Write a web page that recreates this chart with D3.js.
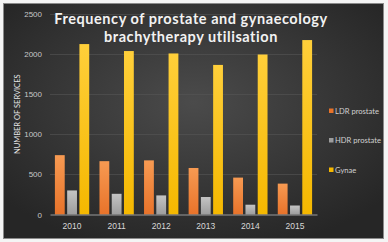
<!DOCTYPE html>
<html>
<head>
<meta charset="utf-8">
<script src="https://cdn.jsdelivr.net/npm/d3@7"></script>
<style>
  body { margin: 0; background: #f4f4f4; }
  svg { display: block; font-family: Lato, "Open Sans", sans-serif; }
</style>
</head>
<body>
<svg id="chart"></svg>
<script>
// chart data
const years = ["2010", "2011", "2012", "2013", "2014", "2015"];
const seriesNames = ["LDR prostate", "HDR prostate", "Gynae"];
const ldr = [740, 665, 675, 580, 460, 385];
const hdr = [300, 258, 238, 218, 122, 112];
const gynae = [2125, 2038, 2008, 1865, 1995, 2175];
const yTicks = [0, 500, 1000, 1500, 2000, 2500];

const width = 388, height = 242;
const margin = { top: 14, right: 71, bottom: 27, left: 50 };

const svg = d3.select("#chart").attr("width", width).attr("height", height);
const defs = svg.append("defs");

// dark panel with a soft radial glow
const bg = defs.append("radialGradient").attr("id", "bg")
  .attr("cx", "50%").attr("cy", "42%").attr("r", "65%");
bg.append("stop").attr("offset", "0%").attr("stop-color", "#4b4b4b");
bg.append("stop").attr("offset", "100%").attr("stop-color", "#262626");

const barColors = [
  ["#f79a52", "#e8732a"],
  ["#c4c4c4", "#9d9d9d"],
  ["#ffcf3a", "#f5b800"]
];
barColors.forEach((c, i) => {
  const g = defs.append("linearGradient").attr("id", "bar" + i)
    .attr("x1", 0).attr("x2", 0).attr("y1", 0).attr("y2", 1);
  g.append("stop").attr("offset", "0%").attr("stop-color", c[0]);
  g.append("stop").attr("offset", "100%").attr("stop-color", c[1]);
});

svg.append("rect")
  .attr("x", 3.5).attr("y", 3.5).attr("width", 380).attr("height", 235)
  .attr("fill", "url(#bg)").attr("stroke", "#8a8a8a").attr("stroke-width", 1);

const x0 = d3.scaleBand().domain(years)
  .range([margin.left, width - margin.right]).paddingInner(0.23).paddingOuter(0.11);
const x1 = d3.scaleBand().domain(seriesNames)
  .range([0, x0.bandwidth()]).paddingInner(0.2);
const y = d3.scaleLinear().domain([0, 2500])
  .range([height - margin.bottom - 0.5, margin.top]);

// gridlines
svg.append("g")
  .selectAll("line")
  .data(yTicks.slice(1))
  .join("line")
  .attr("x1", margin.left).attr("x2", width - margin.right)
  .attr("y1", d => Math.round(y(d)) + 0.5).attr("y2", d => Math.round(y(d)) + 0.5)
  .attr("stroke", "#555").attr("stroke-width", 0.6);

// bars
const rows = years.map((yr, i) => ({ year: yr, values: [ldr[i], hdr[i], gynae[i]] }));
svg.append("g")
  .selectAll("g")
  .data(rows)
  .join("g")
  .attr("transform", d => `translate(${x0(d.year)},0)`)
  .selectAll("rect")
  .data(d => d.values.map((v, k) => ({ key: seriesNames[k], k, v })))
  .join("rect")
  .attr("x", d => x1(d.key))
  .attr("width", x1.bandwidth())
  .attr("y", d => y(d.v))
  .attr("height", d => y(0) - y(d.v))
  .attr("fill", d => `url(#bar${d.k})`);

// y axis labels
const yAxis = svg.append("g")
  .attr("transform", `translate(${margin.left - 8},0)`)
  .call(d3.axisLeft(y).tickValues(yTicks).tickFormat(d3.format("d")).tickSize(0).tickPadding(0));
yAxis.select(".domain").remove();
yAxis.selectAll("text").attr("fill", "#c8c8c8").attr("font-size", 8);

// x axis
const xAxis = svg.append("g")
  .attr("transform", `translate(0,${y(0)})`)
  .call(d3.axisBottom(x0).tickSize(0).tickPadding(8));
xAxis.select(".domain").attr("stroke", "#9a9a9a").attr("stroke-width", 1);
xAxis.selectAll("text").attr("fill", "#d8d8d8").attr("font-size", 8.5);

// axis title
svg.append("text")
  .attr("transform", `translate(20,${(y(0) + y(2500)) / 2}) rotate(-90)`)
  .attr("text-anchor", "middle")
  .attr("fill", "#e6e6e6").attr("font-size", 7.5)
  .text("NUMBER OF SERVICES");

// title
const title = svg.append("text")
  .attr("text-anchor", "middle")
  .attr("fill", "#f2f2f2").attr("font-weight", "bold").attr("font-size", 14.5)
  .style("letter-spacing", "0.55px");
title.append("tspan").attr("x", 191).attr("y", 24).text("Frequency of prostate and gynaecology");
title.append("tspan").attr("x", 191).attr("y", 42).text("brachytherapy utilisation");

// legend
const legend = svg.append("g")
  .selectAll("g")
  .data(seriesNames)
  .join("g")
  .attr("transform", (d, i) => `translate(329,${111 + i * 29.5})`);
legend.append("rect")
  .attr("x", 0).attr("y", -2.5).attr("width", 4.5).attr("height", 4.5)
  .attr("fill", (d, i) => barColors[i][1]);
legend.append("text")
  .attr("x", 6).attr("dy", "0.35em")
  .attr("fill", "#d0d0d0").attr("font-size", 7.6)
  .text(d => d);
</script>
</body>
</html>
